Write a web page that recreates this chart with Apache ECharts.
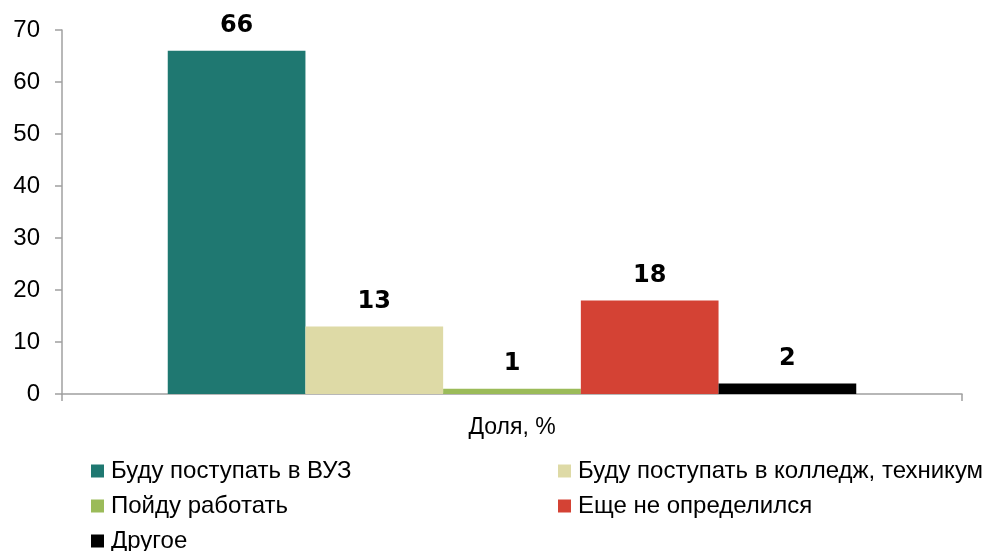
<!DOCTYPE html>
<html><head><meta charset="utf-8">
<script src="https://cdn.jsdelivr.net/npm/echarts@6/dist/echarts.min.js"></script>
<style>html,body{margin:0;padding:0;background:#fff}#c{width:985px;height:551px}</style>
</head><body><div id="c"></div>
<script>
const categories = ['Доля, %'];
const seriesNames = ['Буду поступать в ВУЗ','Буду поступать в колледж, техникум','Пойду работать','Еще не определился','Другое'];
const seriesValues = [66, 13, 1, 18, 2];
const seriesColors = ['#1f7871','#dedaa6','#9bbb59','#d44234','#000000'];
const yTicks = {min:0, max:70, interval:10};

const sans = '"Liberation Sans", Arial, sans-serif';
const chart = echarts.init(document.getElementById('c'));
const legendText = {fontSize:24,lineHeight:24,fontFamily:sans,color:'#000',padding:[0,0,0,2]};
chart.setOption({
  animation:false,
  grid:{left:62,right:23,top:30,bottom:157},
  xAxis:{type:'category',data:categories,
    axisLine:{lineStyle:{color:'#a0a0a0',width:1.5}},
    axisTick:{show:true,length:7,lineStyle:{color:'#a0a0a0',width:1.5}},
    axisLabel:{color:'#000',fontSize:23,fontFamily:sans,margin:22}},
  yAxis:{type:'value',min:yTicks.min,max:yTicks.max,interval:yTicks.interval,
    splitLine:{show:false},
    axisLine:{show:true,lineStyle:{color:'#a0a0a0',width:1.5}},
    axisTick:{show:true,length:7,lineStyle:{color:'#a0a0a0',width:1.5}},
    axisLabel:{color:'#000',fontSize:24,fontFamily:sans,margin:22}},
  legend:[
    {orient:'vertical',left:91,top:459,height:120,padding:0,itemWidth:13,itemHeight:13,itemGap:11,icon:'rect',
     data:[seriesNames[0],seriesNames[2],seriesNames[4]],textStyle:legendText},
    {orient:'vertical',left:558,top:459,height:120,padding:0,itemWidth:13,itemHeight:13,itemGap:11,icon:'rect',
     data:[seriesNames[1],seriesNames[3]],textStyle:legendText}
  ],
  series: seriesNames.map((n,i)=>({
    name:n,type:'bar',data:[seriesValues[i]],barGap:'0%',barCategoryGap:'23.5%',
    itemStyle:{color:seriesColors[i]},
    label:{show:true,position:'top',distance:13,color:'#000',fontSize:24,fontWeight:'bold',
      fontFamily:'"DejaVu Sans", sans-serif'}
  }))
});
</script></body></html>
